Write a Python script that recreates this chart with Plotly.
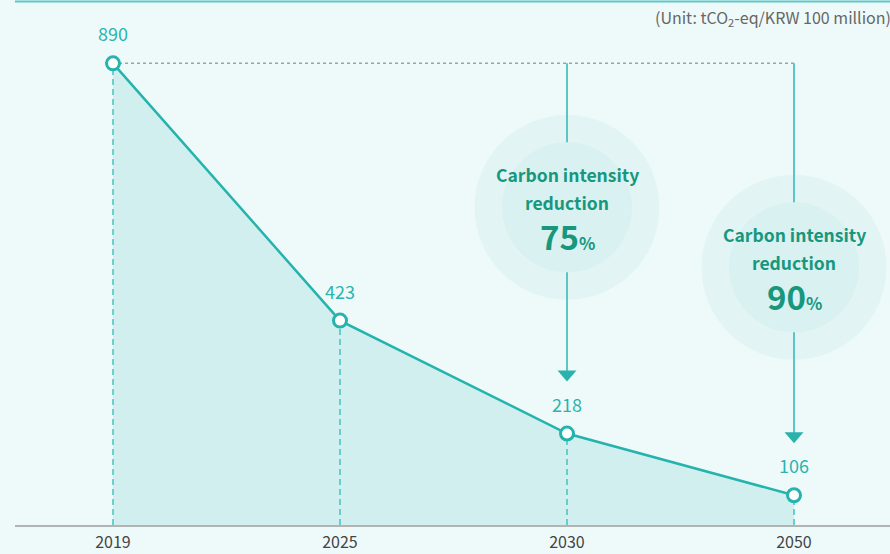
import plotly.graph_objects as go

# ---- data ----
years = ["2019", "2025", "2030", "2050"]
intensity = [890, 423, 218, 106]
reduction_years = ["2030", "2050"]
reduction_pct = ["75", "90"]
unit_text = "(Unit: tCO<sub>2</sub>-eq/KRW 100 million)"
callout_line1 = "Carbon intensity"
callout_line2 = "reduction"

# ---- styling ----
W, H = 890, 554
M_L, M_R, M_T, M_B = 15, 0, 0, 29
BG = "#eefafa"
LINE = "#25b3ae"
FILL = "#d1efee"
LABEL = "#2bb4af"
DARK_TEAL = "#16977e"
FONT = "Noto Sans CJK KR"

YMIN, YMAX = 52, 1005
plot_h = H - M_T - M_B
ppu = plot_h / (YMAX - YMIN)  # pixels per data unit

xs = list(range(len(years)))
top_val = intensity[0]

fig = go.Figure()

# filled area
fig.add_trace(go.Scatter(
    x=xs, y=intensity, mode="lines",
    line=dict(color="rgba(0,0,0,0)", width=0),
    fill="tozeroy", fillcolor=FILL, hoverinfo="skip",
))
# dashed verticals from points to baseline
for x, v in zip(xs, intensity):
    fig.add_trace(go.Scatter(
        x=[x, x], y=[YMIN, v], mode="lines",
        line=dict(color="#45c3c0", width=1.5, dash="6px,4px"),
        hoverinfo="skip",
    ))
# line + markers
fig.add_trace(go.Scatter(
    x=xs, y=intensity, mode="lines+markers",
    line=dict(color=LINE, width=2.5),
    marker=dict(symbol="circle", size=13, color="white",
                line=dict(color=LINE, width=3)),
    hoverinfo="skip", cliponaxis=False,
))

shapes = []
# top border
shapes.append(dict(type="line", xref="paper", yref="paper",
                   x0=0, x1=1, y0=1 - 1.5 / plot_h, y1=1 - 1.5 / plot_h,
                   line=dict(color="#5cc8c8", width=2), layer="above"))
# dotted reference line at the 2019 level
shapes.append(dict(type="line", xref="x", yref="y",
                   x0=xs[0], x1=xs[-1], y0=top_val, y1=top_val,
                   line=dict(color="#9aa4a6", width=1.5, dash="dot"),
                   layer="below"))

annotations = []
# value labels
for x, v in zip(xs, intensity):
    annotations.append(dict(x=x, y=v, xref="x", yref="y", text=str(v),
                            showarrow=False, yshift=30,
                            font=dict(family=FONT, size=18, color=LABEL)))

# callouts
centre_offsets = [-144, -204]
for yr, pct, c_off in zip(reduction_years, reduction_pct, centre_offsets):
    xi = years.index(yr)
    v = intensity[xi]
    # outer circle
    shapes.append(dict(type="circle", xref="x", yref="y",
                       xsizemode="pixel", ysizemode="pixel",
                       xanchor=xi, yanchor=top_val,
                       x0=-92.5, x1=92.5, y0=c_off - 92.5, y1=c_off + 92.5,
                       fillcolor="#e2f5f4", line=dict(width=0), layer="below"))
    # arrow shaft
    shapes.append(dict(type="line", xref="x", yref="y",
                       x0=xi, x1=xi, y0=top_val, y1=v + 62 / ppu,
                       line=dict(color="#5cc6c6", width=2), layer="below"))
    # inner circle
    shapes.append(dict(type="circle", xref="x", yref="y",
                       xsizemode="pixel", ysizemode="pixel",
                       xanchor=xi, yanchor=top_val,
                       x0=-65, x1=65, y0=c_off - 65, y1=c_off + 65,
                       fillcolor="#d9f1f0", line=dict(width=0), layer="below"))
    # arrow head
    shapes.append(dict(type="path", xref="x", yref="y",
                       xsizemode="pixel", ysizemode="pixel",
                       xanchor=xi, yanchor=v,
                       path="M -9.5,63 L 9.5,63 L 0,52 Z",
                       fillcolor="#2ab2ad", line=dict(width=0), layer="below"))
    # texts
    annotations.append(dict(x=xi, y=top_val, xref="x", yref="y",
                            text="<b>" + callout_line1 + "</b>", showarrow=False,
                            yshift=c_off + 33,
                            font=dict(family=FONT, size=17.5, color=DARK_TEAL)))
    annotations.append(dict(x=xi, y=top_val, xref="x", yref="y",
                            text="<b>" + callout_line2 + "</b>", showarrow=False,
                            yshift=c_off + 5,
                            font=dict(family=FONT, size=17.5, color=DARK_TEAL)))
    annotations.append(dict(x=xi, y=top_val, xref="x", yref="y",
                            text="<b>" + pct + "<span style='font-size:17px'>%</span></b>",
                            showarrow=False, yshift=c_off - 29,
                            font=dict(family=FONT, size=33, color=DARK_TEAL)))

# unit
annotations.append(dict(x=1 + 3 / (W - M_L - M_R), y=1 - 18 / plot_h,
                        xref="paper", yref="paper", xanchor="right",
                        yanchor="middle", text=unit_text, showarrow=False,
                        font=dict(family=FONT, size=16, color="#666666")))

fig.update_layout(
    width=W, height=H,
    margin=dict(l=M_L, r=M_R, t=M_T, b=M_B),
    paper_bgcolor=BG, plot_bgcolor=BG,
    showlegend=False,
    shapes=shapes, annotations=annotations,
    xaxis=dict(range=[(15 - 113) / 227, (890 - 113) / 227],
               tickvals=xs, ticktext=years, showgrid=False, zeroline=False,
               showline=True, linecolor="#b3b3b3", linewidth=1.5,
               ticks="", ticklabelstandoff=2,
               tickfont=dict(family=FONT, size=16, color="#444444")),
    yaxis=dict(range=[YMIN, YMAX], visible=False, showgrid=False,
               zeroline=False),
)

fig.write_html("out.html")
